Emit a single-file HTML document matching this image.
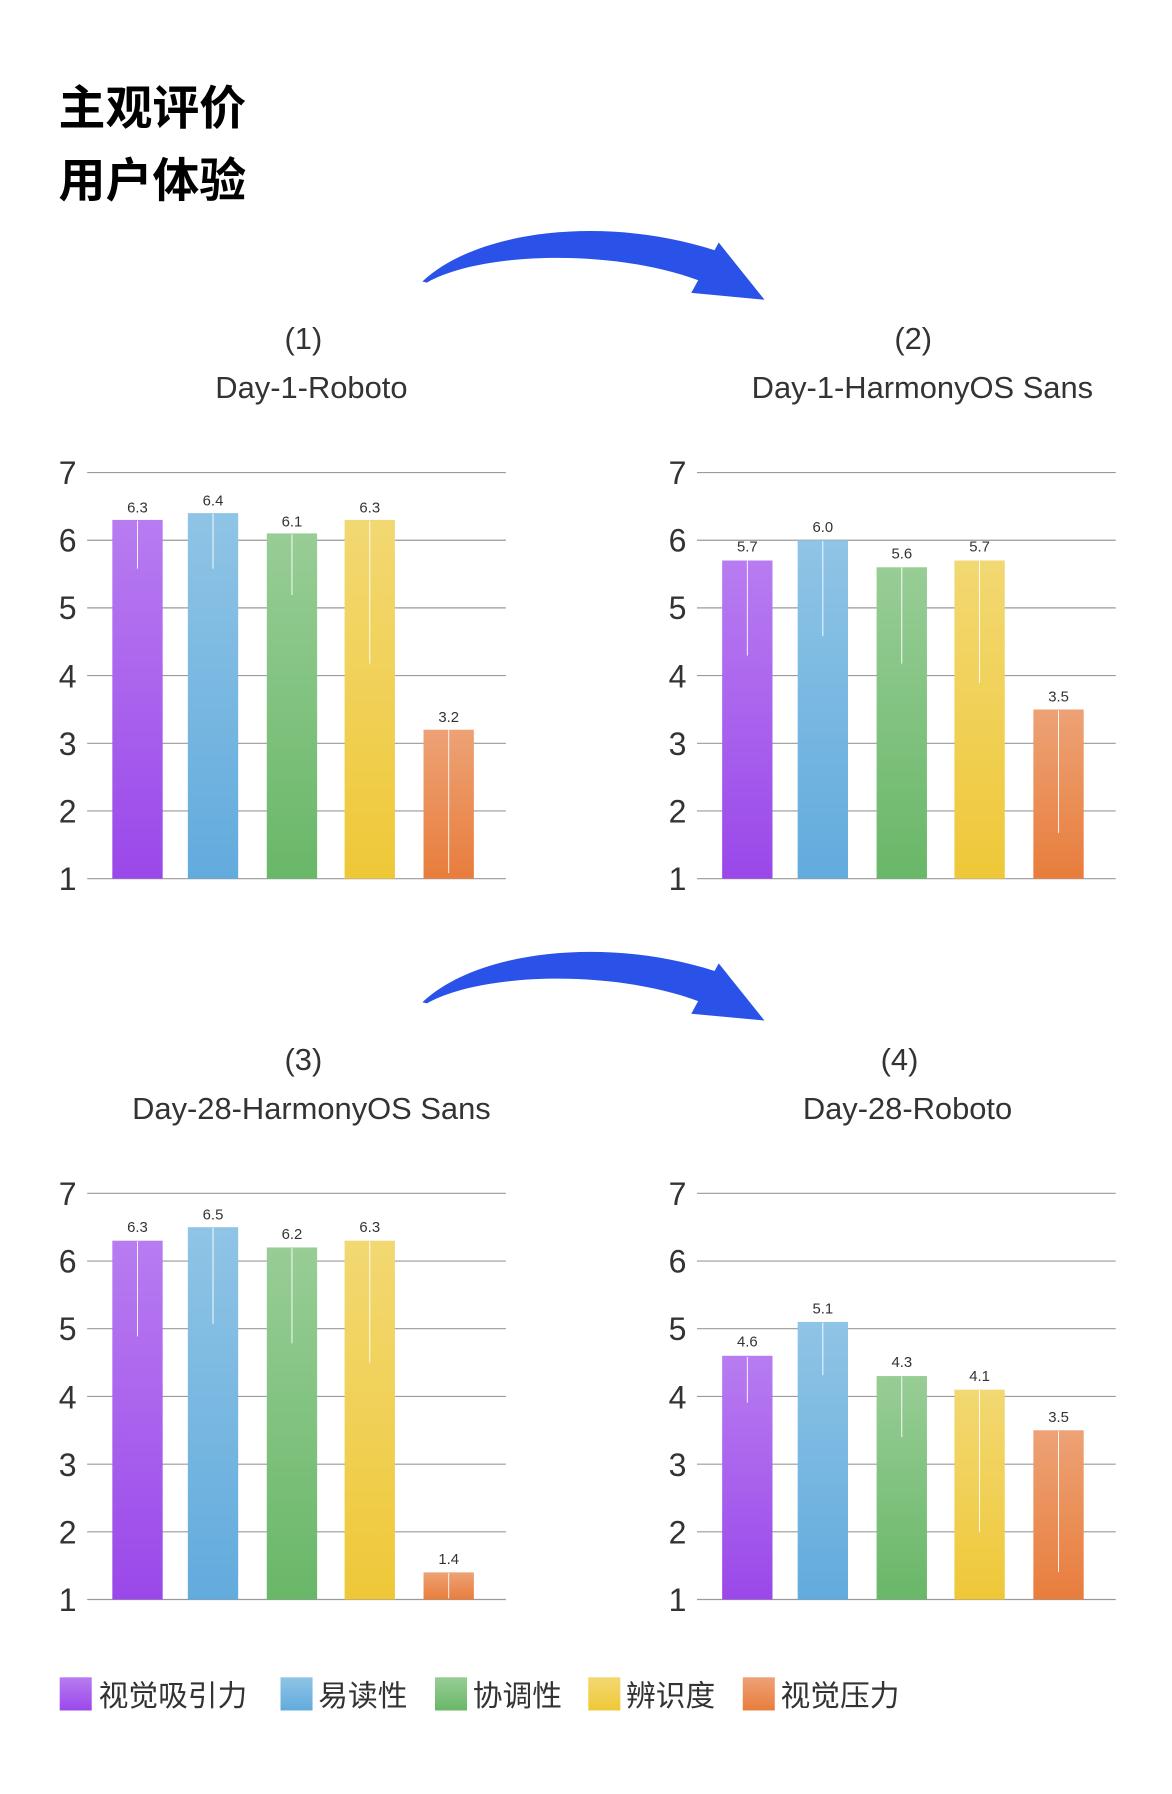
<!DOCTYPE html>
<html><head><meta charset="utf-8"><style>
html,body{margin:0;padding:0;background:#fff;}
svg{display:block;}
text{font-family:"Liberation Sans","Noto Sans CJK SC",sans-serif;}
</style></head><body>
<svg width="1172" height="1794" viewBox="0 0 1024 1568" xmlns="http://www.w3.org/2000/svg">
<defs>
<linearGradient id="gp" x1="0" y1="0" x2="0" y2="1"><stop offset="0" stop-color="#b87cf1"/><stop offset="1" stop-color="#9a48e9"/></linearGradient>
<linearGradient id="gb" x1="0" y1="0" x2="0" y2="1"><stop offset="0" stop-color="#8fc4e5"/><stop offset="1" stop-color="#62abdd"/></linearGradient>
<linearGradient id="gg" x1="0" y1="0" x2="0" y2="1"><stop offset="0" stop-color="#98cd96"/><stop offset="1" stop-color="#69b768"/></linearGradient>
<linearGradient id="gy" x1="0" y1="0" x2="0" y2="1"><stop offset="0" stop-color="#f2d872"/><stop offset="1" stop-color="#efc838"/></linearGradient>
<linearGradient id="go" x1="0" y1="0" x2="0" y2="1"><stop offset="0" stop-color="#eda276"/><stop offset="1" stop-color="#e87d3c"/></linearGradient>
<g id="grid" stroke="#9a9a9a" stroke-width="1">
<line x1="76" x2="442" y1="768" y2="768"/><line x1="76" x2="442" y1="708.8" y2="708.8"/><line x1="76" x2="442" y1="649.7" y2="649.7"/><line x1="76" x2="442" y1="590.5" y2="590.5"/><line x1="76" x2="442" y1="531.3" y2="531.3"/><line x1="76" x2="442" y1="472.2" y2="472.2"/><line x1="76" x2="442" y1="413" y2="413"/>
</g>
<g id="ticks" font-size="28" fill="#333" text-anchor="middle">
<text x="59" y="778">1</text><text x="59" y="719">2</text><text x="59" y="660">3</text><text x="59" y="601">4</text><text x="59" y="541">5</text><text x="59" y="482">6</text><text x="59" y="423">7</text>
</g>
</defs>

<text x="51" y="109" font-size="41" font-weight="bold" fill="#000">主观评价</text>
<text x="51" y="172" font-size="41" font-weight="bold" fill="#000">用户体验</text>

<g id="arr" fill="#2a52e8">
<path d="M369,246 C420,198 540,188 634,222 L618,248 C540,216 420,220 373,247 Z"/>
<polygon points="628,212 668,262 604,256"/>
</g>
<use href="#arr" transform="translate(0,630)"/>

<g font-size="27" fill="#333" text-anchor="middle">
<text x="265" y="305">(1)</text><text x="272" y="348">Day-1-Roboto</text>
<text x="798" y="305">(2)</text><text x="806" y="348">Day-1-HarmonyOS Sans</text>
<text x="265" y="935">(3)</text><text x="272" y="978">Day-28-HarmonyOS Sans</text>
<text x="786" y="935">(4)</text><text x="793" y="978">Day-28-Roboto</text>
</g>

<use href="#grid"/><use href="#ticks"/>
<use href="#grid" transform="translate(533,0)"/><use href="#ticks" transform="translate(533,0)"/>
<use href="#grid" transform="translate(0,630)"/><use href="#ticks" transform="translate(0,630)"/>
<use href="#grid" transform="translate(533,630)"/><use href="#ticks" transform="translate(533,630)"/>

<g stroke="#fff" stroke-width="0.8" font-size="13">
<rect x="98" y="454.4" width="44" height="313.6" fill="url(#gp)" stroke="none"/>
<rect x="164" y="448.5" width="44" height="319.5" fill="url(#gb)" stroke="none"/>
<rect x="233" y="466.2" width="44" height="301.8" fill="url(#gg)" stroke="none"/>
<rect x="301" y="454.4" width="44" height="313.6" fill="url(#gy)" stroke="none"/>
<rect x="370" y="637.8" width="44" height="130.2" fill="url(#go)" stroke="none"/>
<line x1="120" x2="120" y1="455" y2="497"/><line x1="186" x2="186" y1="449" y2="497"/><line x1="255" x2="255" y1="467" y2="520"/><line x1="323" x2="323" y1="455" y2="580"/><line x1="392" x2="392" y1="638" y2="763"/>
<rect x="631" y="489.9" width="44" height="278.1" fill="url(#gp)" stroke="none"/>
<rect x="697" y="472.2" width="44" height="295.8" fill="url(#gb)" stroke="none"/>
<rect x="766" y="495.8" width="44" height="272.2" fill="url(#gg)" stroke="none"/>
<rect x="834" y="489.9" width="44" height="278.1" fill="url(#gy)" stroke="none"/>
<rect x="903" y="620.1" width="44" height="147.9" fill="url(#go)" stroke="none"/>
<line x1="653" x2="653" y1="490" y2="573"/><line x1="719" x2="719" y1="473" y2="556"/><line x1="788" x2="788" y1="496" y2="580"/><line x1="856" x2="856" y1="490" y2="597"/><line x1="925" x2="925" y1="621" y2="728"/>
<rect x="98" y="1084.4" width="44" height="313.6" fill="url(#gp)" stroke="none"/>
<rect x="164" y="1072.6" width="44" height="325.4" fill="url(#gb)" stroke="none"/>
<rect x="233" y="1090.3" width="44" height="307.7" fill="url(#gg)" stroke="none"/>
<rect x="301" y="1084.4" width="44" height="313.6" fill="url(#gy)" stroke="none"/>
<rect x="370" y="1374.3" width="44" height="23.7" fill="url(#go)" stroke="none"/>
<line x1="120" x2="120" y1="1085" y2="1168"/><line x1="186" x2="186" y1="1073" y2="1157"/><line x1="255" x2="255" y1="1091" y2="1174"/><line x1="323" x2="323" y1="1085" y2="1191"/><line x1="392" x2="392" y1="1375" y2="1397"/>
<rect x="631" y="1185" width="44" height="213" fill="url(#gp)" stroke="none"/>
<rect x="697" y="1155.4" width="44" height="242.6" fill="url(#gb)" stroke="none"/>
<rect x="766" y="1202.7" width="44" height="195.3" fill="url(#gg)" stroke="none"/>
<rect x="834" y="1214.6" width="44" height="183.4" fill="url(#gy)" stroke="none"/>
<rect x="903" y="1250.1" width="44" height="147.9" fill="url(#go)" stroke="none"/>
<line x1="653" x2="653" y1="1186" y2="1226"/><line x1="719" x2="719" y1="1156" y2="1202"/><line x1="788" x2="788" y1="1203" y2="1256"/><line x1="856" x2="856" y1="1215" y2="1339"/><line x1="925" x2="925" y1="1251" y2="1374"/>
</g>

<g font-size="13" fill="#333" text-anchor="middle">
<text x="120" y="448">6.3</text><text x="186" y="442">6.4</text><text x="255" y="460">6.1</text><text x="323" y="448">6.3</text><text x="392" y="631">3.2</text>
<text x="653" y="482">5.7</text><text x="719" y="465">6.0</text><text x="788" y="488">5.6</text><text x="856" y="482">5.7</text><text x="925" y="613">3.5</text>
<text x="120" y="1077">6.3</text><text x="186" y="1066">6.5</text><text x="255" y="1083">6.2</text><text x="323" y="1077">6.3</text><text x="392" y="1367">1.4</text>
<text x="653" y="1177">4.6</text><text x="719" y="1148">5.1</text><text x="788" y="1195">4.3</text><text x="856" y="1207">4.1</text><text x="925" y="1243">3.5</text>
</g>

<g font-size="26" fill="#333">
<rect x="52" y="1466" width="28" height="29" fill="url(#gp)"/><text x="86" y="1491">视觉吸引力</text>
<rect x="245" y="1466" width="28" height="29" fill="url(#gb)"/><text x="278" y="1491">易读性</text>
<rect x="380" y="1466" width="28" height="29" fill="url(#gg)"/><text x="413" y="1491">协调性</text>
<rect x="514" y="1466" width="28" height="29" fill="url(#gy)"/><text x="547" y="1491">辨识度</text>
<rect x="649" y="1466" width="28" height="29" fill="url(#go)"/><text x="682" y="1491">视觉压力</text>
</g>
</svg>
</body></html>
